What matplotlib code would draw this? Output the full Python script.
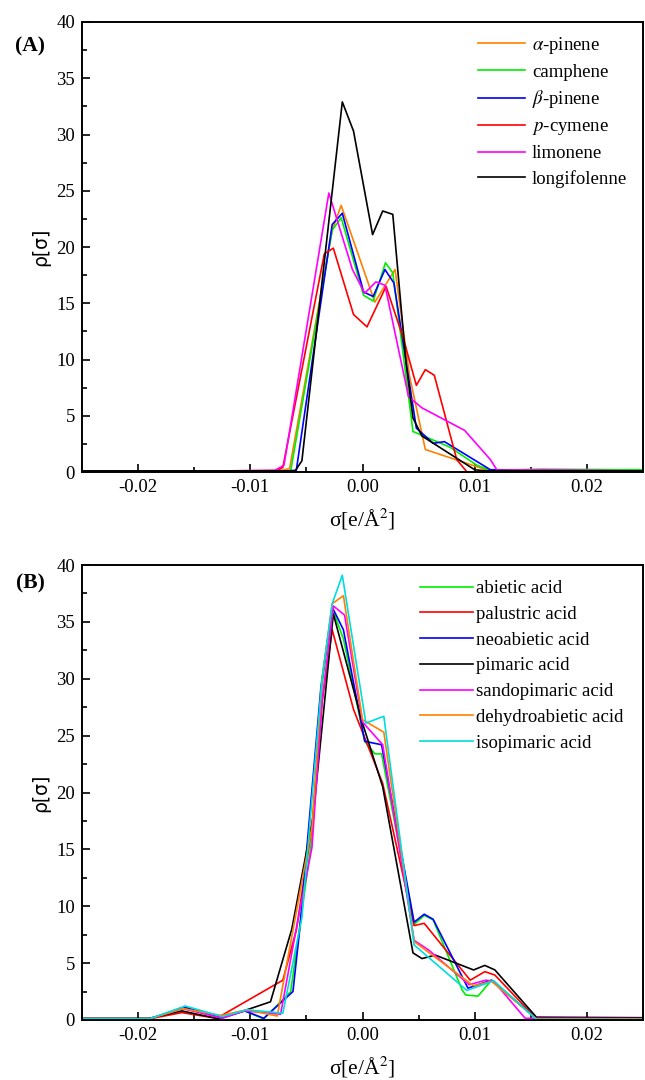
import matplotlib
matplotlib.use("Agg")
import matplotlib.pyplot as plt
from matplotlib.ticker import MultipleLocator, FormatStrFormatter

plt.rcParams['font.family'] = ['Liberation Serif', 'DejaVu Serif']
plt.rcParams['mathtext.fontset'] = 'stix'
plt.rcParams['axes.unicode_minus'] = False

# ---------------- Panel A data ----------------
a_pinene_s = [-0.025, -0.012, -0.0072, -0.0065, -0.0027, -0.0019, 0.0011, 0.0029, 0.0042, 0.0056, 0.0110, 0.0150, 0.025]
a_pinene_r = [0.1, 0.1, 0.15, 0.3, 21.5, 23.7, 15.1, 18.0, 8.5, 2.0, 0.2, 0.2, 0.15]

camphene_s = [-0.025, -0.012, -0.0070, -0.0064, -0.0027, -0.0019, 0.0001, 0.00095, 0.00205, 0.0027, 0.0045, 0.0078, 0.0102, 0.0114, 0.016, 0.025]
camphene_r = [0.1, 0.1, 0.1, 0.1, 21.5, 22.6, 15.7, 15.2, 18.6, 17.7, 3.6, 2.2, 0.6, 0.15, 0.25, 0.2]

b_pinene_s = [-0.025, -0.012, -0.0068, -0.0059, -0.0027, -0.0018, 0.0001, 0.00095, 0.002, 0.0028, 0.0048, 0.0063, 0.0073, 0.0114, 0.016, 0.025]
b_pinene_r = [0.1, 0.1, 0.1, 0.15, 22.0, 23.0, 16.0, 15.6, 18.0, 16.8, 3.9, 2.55, 2.7, 0.2, 0.1, 0.1]

p_cymene_s = [-0.025, -0.012, -0.0078, -0.0071, -0.0034, -0.0026, -0.0008, 0.0004, 0.0021, 0.0036, 0.0048, 0.0056, 0.0064, 0.0084, 0.0093, 0.025]
p_cymene_r = [0.02, 0.02, 0.05, 0.4, 19.4, 19.9, 14.0, 12.9, 16.5, 12.0, 7.7, 9.1, 8.6, 1.1, 0.02, 0.02]

limonene_s = [-0.025, -0.012, -0.0078, -0.0070, -0.0030, -0.0009, 0.0002, 0.0012, 0.0020, 0.0041, 0.0053, 0.0091, 0.0114, 0.0120, 0.016, 0.025]
limonene_r = [0.1, 0.1, 0.15, 0.6, 24.8, 18.0, 15.9, 16.9, 16.6, 6.7, 5.7, 3.7, 1.1, 0.15, 0.2, 0.1]

longifolenne_s = [-0.025, -0.012, -0.0065, -0.0060, -0.0054, -0.0018, -0.0008, 0.0009, 0.0018, 0.0027, 0.0039, 0.0045, 0.0053, 0.0100, 0.0110, 0.025]
longifolenne_r = [0.1, 0.1, 0.1, 0.1, 1.0, 32.9, 30.3, 21.1, 23.2, 22.9, 9.5, 4.8, 3.2, 0.2, 0.1, 0.1]

# ---------------- Panel B data ----------------
abietic_s = [-0.025, -0.019, -0.0158, -0.0126, -0.0105, -0.0088, -0.0064, -0.0045, -0.0036, -0.0027, -0.0017, 0.0002, 0.0011, 0.0017, 0.0046, 0.0055, 0.0063, 0.0089, 0.0092, 0.0103, 0.0115, 0.0155, 0.025]
abietic_r = [0.1, 0.1, 1.1, 0.2, 0.8, 0.1, 2.5, 16.0, 29.5, 36.2, 33.5, 24.5, 23.4, 23.4, 8.4, 9.2, 8.8, 2.6, 2.2, 2.1, 3.5, 0.1, 0.1]

palustric_s = [-0.025, -0.019, -0.0161, -0.013, -0.0071, -0.0059, -0.0045, -0.0036, -0.0027, -0.0008, 0.0002, 0.0018, 0.0046, 0.0055, 0.0096, 0.0109, 0.0118, 0.0155, 0.025]
palustric_r = [0.1, 0.1, 0.65, 0.15, 3.5, 7.9, 17.0, 28.0, 34.3, 27.3, 24.8, 20.8, 8.3, 8.5, 3.5, 4.25, 3.95, 0.1, 0.1]

neoabietic_s = [-0.025, -0.019, -0.0158, -0.0126, -0.0105, -0.0088, -0.0062, -0.0056, -0.0037, -0.0027, -0.0017, 0.0002, 0.0017, 0.0046, 0.0055, 0.0063, 0.0094, 0.0115, 0.0154, 0.025]
neoabietic_r = [0.1, 0.1, 1.1, 0.2, 0.8, 0.15, 2.5, 7.9, 29.3, 36.3, 34.3, 24.5, 24.2, 8.6, 9.3, 8.85, 2.8, 3.5, 0.2, 0.1]

pimaric_s = [-0.025, -0.019, -0.0161, -0.0128, -0.0103, -0.0082, -0.0063, -0.0044, -0.0026, 0.0, 0.0018, 0.0045, 0.0053, 0.0065, 0.0099, 0.0109, 0.0118, 0.0155, 0.025]
pimaric_r = [0.15, 0.15, 0.8, 0.1, 0.9, 1.6, 8.0, 17.9, 35.7, 26.1, 20.5, 5.9, 5.4, 5.7, 4.4, 4.8, 4.4, 0.25, 0.2]

sandopimaric_s = [-0.025, -0.019, -0.016, -0.0125, -0.0105, -0.0073, -0.0060, -0.0045, -0.0036, -0.0026, -0.0016, 0.0, 0.0018, 0.0046, 0.0059, 0.0095, 0.0110, 0.0117, 0.0145, 0.025]
sandopimaric_r = [0.1, 0.1, 1.0, 0.15, 0.8, 0.5, 7.5, 15.2, 28.0, 36.4, 35.6, 26.2, 24.2, 7.0, 6.15, 3.1, 3.5, 3.4, 0.15, 0.12]

dehydroabietic_s = [-0.025, -0.019, -0.016, -0.0126, -0.0103, -0.0076, -0.0062, -0.0045, -0.0036, -0.0027, -0.0017, 0.0, 0.0019, 0.0046, 0.0099, 0.0115, 0.0155, 0.025]
dehydroabietic_r = [0.1, 0.1, 1.0, 0.4, 0.9, 0.35, 7.9, 17.0, 30.0, 36.6, 37.3, 26.4, 25.3, 6.9, 3.0, 3.4, 0.1, 0.1]

isopimaric_s = [-0.025, -0.019, -0.0158, -0.0125, -0.0103, -0.0071, -0.0054, -0.0036, -0.0027, -0.0018, 0.0003, 0.0019, 0.0046, 0.0093, 0.0117, 0.0155, 0.025]
isopimaric_r = [0.1, 0.1, 1.23, 0.3, 0.9, 0.6, 9.0, 30.0, 36.6, 39.1, 26.1, 26.7, 6.6, 2.6, 3.45, 0.05, 0.05]

labels_a = [r'$\alpha$-pinene', 'camphene', r'$\beta$-pinene', r'$p$-cymene', 'limonene', 'longifolenne']
labels_b = ['abietic acid', 'palustric acid', 'neoabietic acid', 'pimaric acid',
            'sandopimaric acid', 'dehydroabietic acid', 'isopimaric acid']
x_ticks = [-0.02, -0.01, 0.00, 0.01, 0.02]

ORANGE = '#FF8000'
GREEN = '#00EE00'
BLUE = '#0000FF'
RED = '#FF0000'
MAGENTA = '#FF00FF'
BLACK = '#000000'
CYAN = '#00DDDD'

series_a = [(a_pinene_s, a_pinene_r, ORANGE), (camphene_s, camphene_r, GREEN),
            (b_pinene_s, b_pinene_r, BLUE), (p_cymene_s, p_cymene_r, RED),
            (limonene_s, limonene_r, MAGENTA), (longifolenne_s, longifolenne_r, BLACK)]
series_b = [(abietic_s, abietic_r, GREEN), (palustric_s, palustric_r, RED),
            (neoabietic_s, neoabietic_r, BLUE), (pimaric_s, pimaric_r, BLACK),
            (sandopimaric_s, sandopimaric_r, MAGENTA), (dehydroabietic_s, dehydroabietic_r, ORANGE),
            (isopimaric_s, isopimaric_r, CYAN)]

W, H = 645, 1080
fig = plt.figure(figsize=(W / 100, H / 100), dpi=100)

def px_axes(left, top, right, bottom):
    return fig.add_axes([left / W, 1 - bottom / H, (right - left) / W, (bottom - top) / H])

axA = px_axes(82, 22, 643, 472)
axB = px_axes(82, 565, 643, 1020)

def style(ax, series, labels, leg_anchor, handlelen, textpad, lspace, panel, panel_xy):
    for (s, r, c), lab in zip(series, labels):
        ax.plot(s, r, color=c, lw=1.2, label=lab)
    ax.set_xlim(-0.025, 0.025)
    ax.set_ylim(0, 40)
    ax.set_xticks(x_ticks)
    ax.xaxis.set_major_formatter(FormatStrFormatter('%.2f'))
    ax.xaxis.set_minor_locator(MultipleLocator(0.005))
    ax.yaxis.set_major_locator(MultipleLocator(5))
    ax.yaxis.set_minor_locator(MultipleLocator(2.5))
    ax.tick_params(which='both', direction='in', top=False, right=False, labelsize=13.5, width=1.2)
    ax.tick_params(which='major', length=6, pad=5)
    ax.tick_params(which='minor', length=3.5)
    for sp in ax.spines.values():
        sp.set_linewidth(1.4)
    ax.set_xlabel(r'σ[e/Å$^{2}$]', fontsize=15.5, labelpad=8)
    ax.set_ylabel('ρ[σ]', fontsize=13.5, family=['DejaVu Sans'], labelpad=4)
    ax.legend(loc='upper left', bbox_to_anchor=leg_anchor, frameon=False,
              fontsize=13.5, handlelength=handlelen, handletextpad=textpad,
              labelspacing=lspace, borderpad=0, borderaxespad=0)
    fig.text(panel_xy[0] / W, 1 - panel_xy[1] / H, panel, fontsize=15.5, fontweight='bold',
             ha='center', va='center')

style(axA, series_a, labels_a, ((478 - 82) / 561, (472 - 35) / 450), 2.5, 0.37, 0.41, '(A)', (30, 46))
style(axB, series_b, labels_b, ((420 - 82) / 561, (1020 - 580) / 455), 2.8, 0.18, 0.46, '(B)', (30, 583))

fig.savefig('out.png', dpi=100)
